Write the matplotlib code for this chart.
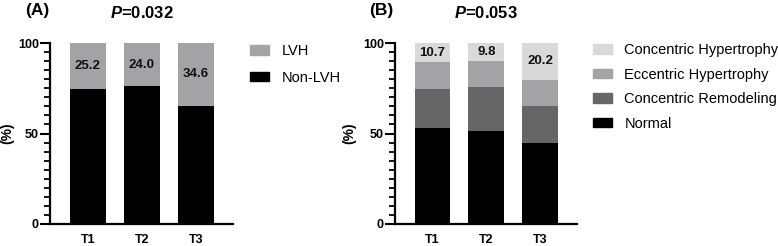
import numpy as np
import matplotlib
matplotlib.use("Agg")
import matplotlib.pyplot as plt
from matplotlib.patches import Patch
from matplotlib.ticker import MultipleLocator

plt.rcParams['font.family'] = ['Liberation Sans', 'DejaVu Sans']
plt.rcParams['mathtext.fontset'] = 'custom'
plt.rcParams['mathtext.it'] = 'Liberation Sans:italic:bold'
plt.rcParams['mathtext.rm'] = 'Liberation Sans:bold'

# data
groups = ['T1', 'T2', 'T3']

# panel A
lvh = [25.2, 24.0, 34.6]
non_lvh = [74.8, 76.0, 65.4]

# panel B
normal = [52.9, 51.4, 44.6]
conc_remodel = [21.5, 24.5, 20.6]
ecc_hyper = [14.9, 14.3, 14.6]
conc_hyper = [10.7, 9.8, 20.2]

W, H = 778, 246
fig = plt.figure(figsize=(W / 100, H / 100), dpi=100)

axA = fig.add_axes([50 / W, 22 / H, 183 / W, 181 / H])
axB = fig.add_axes([395 / W, 22 / H, 182 / W, 181 / H])

x = np.arange(len(groups))
bw = 0.667
c_light = '#d9d9d9'
c_mid = '#a3a3a6'
c_dark = '#666666'


def style_axis(ax, title, ylab_x):
    ax.set_xlim(-0.7, 2.69)
    ax.set_ylim(0, 100)
    ax.spines['top'].set_visible(False)
    ax.spines['right'].set_visible(False)
    ax.spines['left'].set_linewidth(1.6)
    ax.spines['bottom'].set_linewidth(1.6)
    ax.yaxis.set_major_locator(MultipleLocator(50))
    ax.yaxis.set_minor_locator(MultipleLocator(5))
    ax.tick_params(axis='y', which='major', length=7, width=1.5, labelsize=9, pad=1)
    ax.tick_params(axis='y', which='minor', length=4, width=1.3)
    ax.tick_params(axis='x', length=0, labelsize=9, pad=7)
    ax.set_xticks(x)
    ax.set_xticklabels(groups, fontweight='bold')
    for lab in ax.get_yticklabels():
        lab.set_fontweight('bold')
    # y label and title placed by hand to sit where the original has them
    ax.text(ylab_x, 0.5, '(%)', transform=ax.transAxes, rotation=90,
            ha='center', va='center', fontsize=10, fontweight='bold')
    ax.text(0.5, 1 + 30 / 181, title, transform=ax.transAxes,
            ha='center', va='center', fontsize=12, fontweight='bold')


# (A)
axA.bar(x, non_lvh, bw, color='black')
axA.bar(x, lvh, bw, bottom=non_lvh, color=c_mid)
for i in range(len(groups)):
    axA.text(x[i], non_lvh[i] + lvh[i] / 2, f'{lvh[i]:.1f}', ha='center', va='center',
             fontsize=9.5, fontweight='bold', color='#111111')
style_axis(axA, r'$\mathit{P}$=0.032', -43 / 183)
fig.text(25 / W, 1 - 11 / H, '(A)', fontsize=12.5, fontweight='bold', va='center')

legA = [Patch(color=c_mid, label='LVH'), Patch(color='black', label='Non-LVH')]
fig.legend(handles=legA, loc='upper left', bbox_to_anchor=(237 / W, 1 - 31 / H),
           frameon=False, fontsize=10.5, handlelength=1.3, handleheight=0.65,
           handletextpad=0.85, labelspacing=0.85)

# (B)
b1 = np.array(normal)
b2 = b1 + np.array(conc_remodel)
b3 = b2 + np.array(ecc_hyper)
axB.bar(x, normal, bw, color='black')
axB.bar(x, conc_remodel, bw, bottom=b1, color=c_dark)
axB.bar(x, ecc_hyper, bw, bottom=b2, color=c_mid)
axB.bar(x, conc_hyper, bw, bottom=b3, color=c_light)
for i in range(len(groups)):
    axB.text(x[i], b3[i] + conc_hyper[i] / 2, f'{conc_hyper[i]:.1f}', ha='center', va='center',
             fontsize=9.5, fontweight='bold', color='#111111')
style_axis(axB, r'$\mathit{P}$=0.053', -46 / 182)
fig.text(369 / W, 1 - 11 / H, '(B)', fontsize=12.5, fontweight='bold', va='center')

legB = [Patch(color=c_light, label='Concentric Hypertrophy'),
        Patch(color=c_mid, label='Eccentric Hypertrophy'),
        Patch(color=c_dark, label='Concentric Remodeling'),
        Patch(color='black', label='Normal')]
fig.legend(handles=legB, loc='upper left', bbox_to_anchor=(580 / W, 1 - 30 / H),
           frameon=False, fontsize=10.5, handlelength=1.3, handleheight=0.65,
           handletextpad=0.85, labelspacing=0.72)

fig.savefig('out.png', dpi=100)
